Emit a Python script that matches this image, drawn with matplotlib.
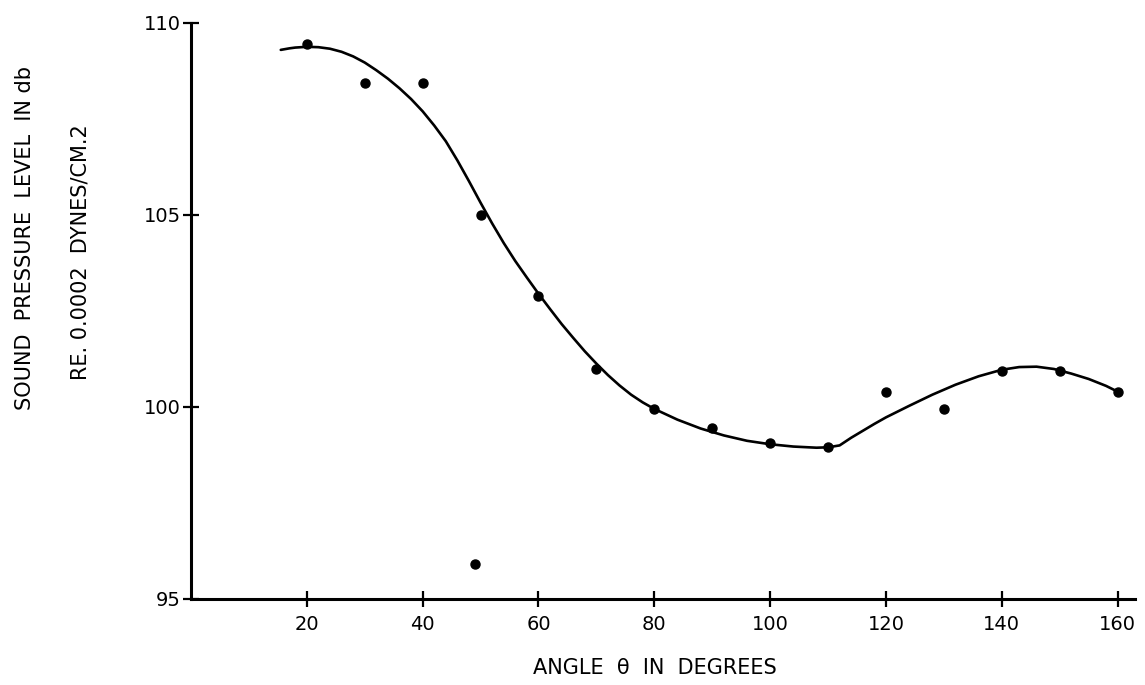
import matplotlib
matplotlib.use("Agg")
import matplotlib.pyplot as plt

# measured points (angle in degrees, SPL in db)
angle_pts = [20, 30, 40, 50, 49, 60, 70, 80, 90, 100, 110, 120, 130, 140, 150, 160]
spl_pts = [109.45, 108.45, 108.45, 105.0, 95.9, 102.9, 101.0, 99.95, 99.45, 99.05,
           98.95, 100.4, 99.95, 100.95, 100.95, 100.4]

# faired curve
angle_curve = [15.5, 17, 18, 20, 22, 24, 26, 28, 30, 32, 34, 36, 38, 40, 42, 44, 46, 48,
               50, 52, 54, 56, 58, 60, 62, 64, 66, 68, 70, 72, 74, 76, 78, 80, 84,
               88, 92, 96, 100, 104, 108, 110, 112, 114, 116, 118, 120, 124, 128,
               132, 136, 140, 143, 146, 149, 152, 155, 158, 160]
spl_curve = [109.3, 109.34, 109.36, 109.38, 109.37, 109.33, 109.25, 109.13, 108.97,
             108.77, 108.55, 108.3, 108.02, 107.7, 107.33, 106.92, 106.42, 105.88,
             105.32, 104.78, 104.27, 103.8, 103.37, 102.95, 102.55, 102.16, 101.8,
             101.45, 101.13, 100.83, 100.56, 100.32, 100.12, 99.95, 99.67, 99.44,
             99.26, 99.12, 99.03, 98.97, 98.94, 98.95, 99.0, 99.2, 99.38, 99.56,
             99.73, 100.03, 100.32, 100.58, 100.8, 100.97, 101.04, 101.05, 100.99,
             100.87, 100.73, 100.55, 100.4]

x_ticks = [20, 40, 60, 80, 100, 120, 140, 160]
y_ticks = [95, 100, 105, 110]

W, H = 1145, 685
fig = plt.figure(figsize=(W / 100, H / 100), dpi=100)
ax = fig.add_axes([191 / W, 1 - 599 / H, 944 / W, 576 / H])

ax.plot(angle_curve, spl_curve, color="black", lw=1.9, solid_capstyle="round",
        solid_joinstyle="round")
ax.plot(angle_pts, spl_pts, "o", color="black", ms=6.5, clip_on=False)

ax.set_xlim(0, 163)
ax.set_ylim(95, 110)
ax.set_xticks(x_ticks)
ax.set_yticks(y_ticks)

for side in ["top", "right"]:
    ax.spines[side].set_visible(False)
for side in ["left", "bottom"]:
    ax.spines[side].set_linewidth(2.2)

ax.tick_params(axis="both", direction="inout", length=11, width=1.6, color="black",
               labelsize=14)
ax.tick_params(axis="x", pad=6)
ax.tick_params(axis="y", pad=2)

fig.text(655 / W, 1 - 668 / H, "ANGLE  \u03b8  IN  DEGREES", ha="center", va="center",
         fontsize=15)
fig.text(25 / W, 1 - 238 / H, "SOUND  PRESSURE  LEVEL  IN db", rotation=90,
         ha="center", va="center", fontsize=15)
fig.text(81 / W, 1 - 252 / H, "RE. 0.0002  DYNES/CM.2", rotation=90,
         ha="center", va="center", fontsize=15)

fig.savefig("out.png", dpi=100)
